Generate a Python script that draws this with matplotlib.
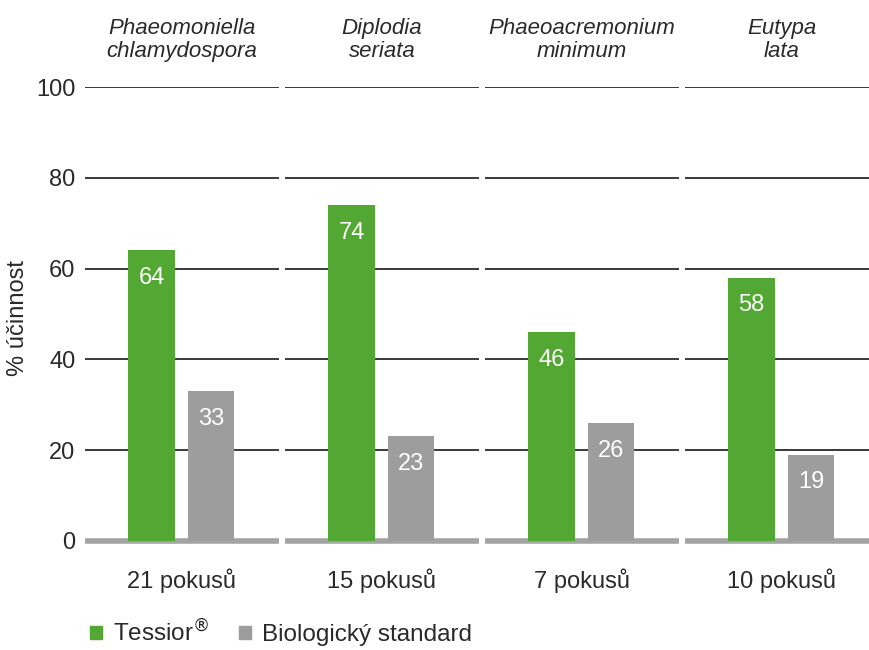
import matplotlib.pyplot as plt
from matplotlib.patches import Patch

plt.rcParams['font.family'] = ['Liberation Sans', 'DejaVu Sans']

# data
fungi = ['Phaeomoniella\nchlamydospora', 'Diplodia\nseriata',
         'Phaeoacremonium\nminimum', 'Eutypa\nlata']
trials = ['21 pokusů', '15 pokusů', '7 pokusů', '10 pokusů']
tessior = [64, 74, 46, 58]
bio_std = [33, 23, 26, 19]

green = '#52a833'
grey = '#9d9d9d'
txt = '#2a2a2a'

fig, axes = plt.subplots(1, 4, figsize=(8.7, 6.5), dpi=100, sharey=True)
fig.subplots_adjust(left=0.0977, right=1.0103, top=0.866, bottom=0.168, wspace=0.031)

for i, ax in enumerate(axes):
    vals = [tessior[i], bio_std[i]]
    bars = ax.bar([0, 1], vals, width=0.78, color=[green, grey], zorder=3)
    for b, v in zip(bars, vals):
        ax.annotate(str(v), (b.get_x() + b.get_width() / 2, v), xytext=(0, -20),
                    textcoords='offset points', ha='center', va='center',
                    color='white', fontsize=17, zorder=4)
    ax.set_xlim(-1.12, 2.14)
    ax.set_ylim(0, 100)
    ax.set_yticks([0, 20, 40, 60, 80, 100])
    ax.yaxis.grid(True, color=txt, lw=1.3, zorder=1)
    ax.axhline(0, color='#a3a3a3', lw=4, zorder=2, clip_on=False,
               solid_capstyle='butt')
    for s in ax.spines.values():
        s.set_visible(False)
    ax.set_xticks([])
    ax.tick_params(axis='y', length=0, pad=7, labelsize=17, labelcolor=txt)
    ax.set_title(fungi[i], fontsize=16, style='italic', color=txt, pad=22,
                 linespacing=1.1)
    ax.set_xlabel(trials[i], fontsize=17, color=txt, labelpad=20)

axes[0].set_ylabel('% účinnost', fontsize=17, color=txt)
axes[0].yaxis.set_label_coords(-0.29, 0.49)

handles = [Patch(color=green, label='Tessior$^{®}$'),
           Patch(color=grey, label='Biologický standard')]
fig.legend(handles=handles, loc='lower left', bbox_to_anchor=(0.1034, 0.006),
           ncol=2, frameon=False, fontsize=17.5, handlelength=0.5, handleheight=0.5,
           handletextpad=0.45, columnspacing=1.2, borderpad=0, borderaxespad=0,
           labelcolor=txt)

fig.savefig('out.png', dpi=100)
